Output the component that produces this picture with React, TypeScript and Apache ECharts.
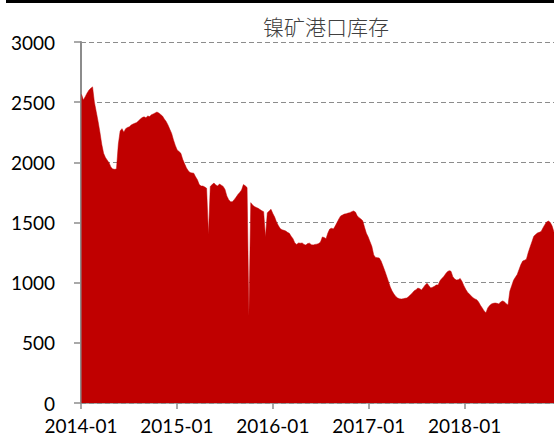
import React, { useEffect, useRef } from "react";
import * as echarts from "echarts";

const TITLE = "镍矿港口库存";
const START_DATE = "2014-01-03"; // first weekly observation
const Y_TICKS = [0, 500, 1000, 1500, 2000, 2500, 3000];
// weekly nickel ore port inventory (10k tonnes)
const VALUES = [
  2565, 2518, 2545, 2575, 2600, 2615, 2627, 2500, 2420, 2340,
  2250, 2150, 2075, 2040, 2018, 1995, 1960, 1945, 1942, 1945,
  2150, 2260, 2280, 2250, 2280, 2290, 2295, 2310, 2318, 2325,
  2330, 2345, 2360, 2372, 2378, 2370, 2385, 2380, 2395, 2402,
  2410, 2418, 2410, 2398, 2385, 2360, 2340, 2310, 2275, 2240,
  2186, 2140, 2103, 2090, 2075, 2025, 1990, 1955, 1930, 1915,
  1912, 1910, 1880, 1855, 1815, 1803, 1803, 1795, 1785, 1400,
  1800, 1815, 1828, 1812, 1803, 1820, 1810, 1800, 1775, 1720,
  1690, 1672, 1672, 1690, 1710, 1732, 1750, 1770, 1815, 1805,
  1790, 720, 1665, 1645, 1632, 1625, 1618, 1608, 1598, 1590,
  1380, 1580, 1595, 1610, 1575, 1545, 1505, 1475, 1450, 1440,
  1435, 1430, 1418, 1410, 1385, 1365, 1330, 1318, 1330, 1328,
  1330, 1318, 1312, 1325, 1328, 1315, 1313, 1318, 1320, 1325,
  1338, 1380, 1375, 1365, 1413, 1445, 1452, 1446, 1470, 1500,
  1530, 1555, 1562, 1570, 1572, 1578, 1582, 1590, 1596, 1587,
  1556, 1540, 1530, 1515, 1460, 1410, 1380, 1340, 1300, 1230,
  1210, 1208, 1205, 1180, 1140, 1100, 1055, 1010, 964, 930,
  905, 885, 872, 866, 864, 866, 870, 873, 885, 900,
  915, 932, 942, 955, 950, 939, 960, 981, 995, 975,
  956, 962, 970, 981, 981, 1015, 1035, 1050, 1072, 1090,
  1100, 1095, 1050, 1030, 1022, 1025, 1035, 1010, 975, 945,
  920, 905, 890, 875, 865, 858, 840, 812, 790, 765,
  750, 790, 810, 823, 828, 831, 828, 823, 840, 848,
  842, 825, 815, 930, 975, 1020, 1045, 1068, 1110, 1150,
  1180, 1186, 1195, 1250, 1296, 1340, 1385, 1400, 1413, 1418,
  1425, 1455, 1482, 1505, 1512, 1500, 1470, 1420,
];

const DAY = 86400000;
function decimalYear(t: number): number {
  const y = new Date(t).getUTCFullYear();
  const a = Date.UTC(y, 0, 1);
  const b = Date.UTC(y + 1, 0, 1);
  return y + (t - a) / (b - a);
}

export default function App() {
  const ref = useRef<HTMLDivElement>(null);
  useEffect(() => {
    document.body.style.margin = "0";
    if (!ref.current) return;
    const chart = echarts.init(ref.current, null, { renderer: "svg" });
    const t0 = Date.parse(START_DATE + "T00:00:00Z");
    const data = VALUES.map((v, i) => [decimalYear(t0 + i * 7 * DAY), v]);
    const xMax = data[data.length - 1][0] as number;
    const font = "Lato, 'Open Sans', sans-serif";
    chart.setOption({
      animation: false,
      title: {
        text: TITLE,
        left: 321,
        top: 10,
        textAlign: "center",
        textStyle: {
          fontFamily: "'Noto Sans CJK SC', sans-serif",
          fontSize: 21,
          fontWeight: 300,
          color: "#404040",
        },
      },
      graphic: [
        { type: "rect", left: 6, top: 0, shape: { width: 548, height: 3 }, style: { fill: "#000" } },
      ],
      grid: { left: 81, right: 0, top: 42, bottom: 38, containLabel: false },
      xAxis: {
        type: "value",
        min: 2014,
        max: xMax,
        interval: 1,
        axisLine: { show: true, lineStyle: { color: "#8c8c8c", width: 1.5 } },
        axisTick: { show: true, length: 6, lineStyle: { color: "#8c8c8c", width: 1.5 } },
        splitLine: { show: false },
        axisLabel: {
          showMaxLabel: false,
          margin: 13,
          fontFamily: font,
          fontSize: 19,
          color: "#000",
          formatter: (v: number) => (Number.isInteger(v) ? `${v}-01` : ""),
        },
      },
      yAxis: {
        type: "value",
        min: Y_TICKS[0],
        max: Y_TICKS[Y_TICKS.length - 1],
        interval: 500,
        axisLine: { show: true, lineStyle: { color: "#8c8c8c", width: 2 } },
        axisTick: { show: true, length: 7, lineStyle: { color: "#8c8c8c", width: 1.5 } },
        splitLine: { show: true, lineStyle: { color: "#8c8c8c", type: [5, 3], width: 1.2 } },
        axisLabel: {
          margin: 26,
          fontFamily: font,
          fontSize: 19,
          color: "#000",
          formatter: (v: number) => String(v),
        },
      },
      series: [
        {
          type: "line",
          data,
          showSymbol: false,
          symbol: "none",
          lineStyle: { width: 0.5, color: "#C00000" },
          areaStyle: { color: "#C00000", opacity: 1 },
          itemStyle: { color: "#C00000" },
          z: 1,
        },
      ],
    });
    return () => chart.dispose();
  }, []);
  return <div ref={ref} style={{ width: 554, height: 441 }} />;
}
